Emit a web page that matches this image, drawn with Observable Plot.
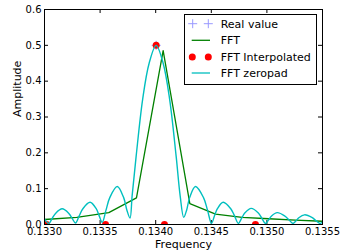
<!DOCTYPE html>
<html>
<head>
<meta charset="utf-8">
<script src="https://cdn.jsdelivr.net/npm/d3@7"></script>
<script src="https://cdn.jsdelivr.net/npm/@observablehq/plot@0.6"></script>
<style>
  body { margin: 0; background: white; }
  #wrap { position: relative; width: 358px; height: 252px; font-family: "DejaVu Sans", sans-serif; }
  #legend { position: absolute; left: 184px; top: 14px; }
</style>
</head>
<body>
<div id="wrap"></div>
<script>
// Axis ticks
const xTicks = [0.1330, 0.1335, 0.1340, 0.1345, 0.1350, 0.1355];
const yTicks = [0.0, 0.1, 0.2, 0.3, 0.4, 0.5, 0.6];

// Real value
const realFreq = [0.134004];
const realAmp = [0.5];

// FFT (green)
const fftFreq = [0.133000, 0.133290, 0.133578, 0.133827, 0.134067, 0.134307, 0.134538, 0.134777, 0.135016, 0.135255, 0.135500];
const fftAmp  = [0.014, 0.020, 0.033, 0.0745, 0.485, 0.058, 0.029, 0.020, 0.016, 0.012, 0.009];

// FFT Interpolated (red dots)
const interpFreq = [0.133018, 0.133549, 0.134079, 0.134897, 0.134004];
const interpAmp  = [0, 0, 0, 0, 0.5];

// FFT zeropad (cyan)
const zeropadFreq = [
  0.133000, 0.133039,
  0.133069, 0.133099, 0.133159, 0.133219, 0.133249, 0.133279,
  0.133312, 0.133345, 0.133410, 0.133465, 0.133492, 0.133519,
  0.133553, 0.133587, 0.133654, 0.133712, 0.133741, 0.133769,
  0.133788, 0.133824, 0.133883, 0.133941, 0.134004, 0.134067, 0.134125, 0.134184, 0.134220, 0.134252,
  0.134278, 0.134305, 0.134358, 0.134430, 0.134466, 0.134502,
  0.134528, 0.134555, 0.134607, 0.134675, 0.134709, 0.134743,
  0.134772, 0.134801, 0.134859, 0.134923, 0.134955, 0.134987,
  0.135014, 0.135040, 0.135093, 0.135164, 0.135200, 0.135235,
  0.135261, 0.135287, 0.135338, 0.135408, 0.135443, 0.135477,
  0.135500
];
const zeropadAmp = [
  0.016, 0.003,
  0.017, 0.031, 0.044, 0.031, 0.017, 0.004,
  0.024, 0.044, 0.062, 0.044, 0.024, 0.006,
  0.040, 0.075, 0.106, 0.075, 0.040, 0.018,
  0.080, 0.190, 0.350, 0.450, 0.500, 0.450, 0.350, 0.190, 0.080, 0.020,
  0.040, 0.075, 0.106, 0.075, 0.040, 0.003,
  0.024, 0.044, 0.062, 0.044, 0.024, 0.003,
  0.017, 0.032, 0.045, 0.032, 0.017, 0.003,
  0.0125, 0.023, 0.033, 0.023, 0.0125, 0.003,
  0.010, 0.019, 0.027, 0.019, 0.010, 0.003,
  0.007
];

const COLORS = { real: "#9999ff", fft: "#008000", interp: "#ff0000", zeropad: "#00bfbf" };

const toRows = (xs, ys) => xs.map((x, i) => ({ x, y: ys[i] }));
const realRows = toRows(realFreq, realAmp);
const fftRows = toRows(fftFreq, fftAmp);
const interpRows = toRows(interpFreq, interpAmp);
const zeropadRows = toRows(zeropadFreq, zeropadAmp);

// thin "+" marker like matplotlib
const plusSymbol = {
  draw(context, size) {
    const s = Math.sqrt(size / Math.PI);
    context.moveTo(-s, 0); context.lineTo(s, 0);
    context.moveTo(0, -s); context.lineTo(0, s);
  }
};

const chart = Plot.plot({
  width: 358,
  height: 252,
  marginLeft: 44,
  marginRight: 36,
  marginTop: 9,
  marginBottom: 28,
  style: { fontFamily: "DejaVu Sans, sans-serif", fontSize: "10px", background: "white", color: "black" },
  x: { domain: [0.1330, 0.1355] },
  y: { domain: [0, 0.6] },
  marks: [
    Plot.axisX({ ticks: xTicks, tickFormat: d3.format(".4f"), tickSize: 0, tickPadding: 3, fontSize: 10, label: null }),
    Plot.axisY({ ticks: yTicks, tickFormat: d3.format(".1f"), tickSize: 0, tickPadding: 3, fontSize: 10, label: null }),
    // inward ticks on all four sides
    Plot.tickX(xTicks, { x: d => d, insetTop: 211, stroke: "black" }),
    Plot.tickX(xTicks, { x: d => d, insetBottom: 211, stroke: "black" }),
    Plot.tickY(yTicks, { y: d => d, insetRight: 274, stroke: "black" }),
    Plot.tickY(yTicks, { y: d => d, insetLeft: 274, stroke: "black" }),
    Plot.dot(realRows, { x: "x", y: "y", symbol: plusSymbol, r: 4.5, stroke: COLORS.real, strokeWidth: 1, clip: true }),
    Plot.line(fftRows, { x: "x", y: "y", stroke: COLORS.fft, strokeWidth: 1.3, clip: true }),
    Plot.dot(interpRows, { x: "x", y: "y", r: 3.5, fill: COLORS.interp, stroke: "none", clip: true }),
    Plot.line(zeropadRows, { x: "x", y: "y", stroke: COLORS.zeropad, strokeWidth: 1.4, curve: "catmull-rom", clip: true }),
    Plot.frame({ stroke: "black" }),
    Plot.text(["Frequency"], { text: d => d, frameAnchor: "bottom", dy: 23, fontSize: 11 }),
    Plot.text(["Amplitude"], { text: d => d, frameAnchor: "left", rotate: -90, dx: -27, fontSize: 11 })
  ]
});

const wrap = document.getElementById("wrap");
wrap.appendChild(chart);

// Legend (matplotlib-style box inside the axes)
const legendItems = [
  { label: "Real value", kind: "plus", color: COLORS.real },
  { label: "FFT", kind: "line", color: COLORS.fft },
  { label: "FFT Interpolated", kind: "dots", color: COLORS.interp },
  { label: "FFT zeropad", kind: "line", color: COLORS.zeropad }
];
const ns = "http://www.w3.org/2000/svg";
const leg = document.createElementNS(ns, "svg");
leg.setAttribute("id", "legend");
leg.setAttribute("width", 134);
leg.setAttribute("height", 72);
const box = document.createElementNS(ns, "rect");
box.setAttribute("x", 0.5); box.setAttribute("y", 0.5);
box.setAttribute("width", 132); box.setAttribute("height", 70);
box.setAttribute("fill", "white"); box.setAttribute("stroke", "black");
leg.appendChild(box);
const rowY = [9.7, 26.3, 43, 59];
legendItems.forEach((it, i) => {
  const y = rowY[i];
  if (it.kind === "line") {
    const l = document.createElementNS(ns, "line");
    l.setAttribute("x1", 7.7); l.setAttribute("x2", 26);
    l.setAttribute("y1", y); l.setAttribute("y2", y);
    l.setAttribute("stroke", it.color); l.setAttribute("stroke-width", 1.3);
    leg.appendChild(l);
  } else if (it.kind === "plus") {
    [8.7, 24.3].forEach(cx => {
      const p = document.createElementNS(ns, "path");
      p.setAttribute("d", `M${cx - 4.5},${y}H${cx + 4.5}M${cx},${y - 4.5}V${y + 4.5}`);
      p.setAttribute("stroke", it.color); p.setAttribute("fill", "none");
      leg.appendChild(p);
    });
  } else {
    [8.3, 24.3].forEach(cx => {
      const c = document.createElementNS(ns, "circle");
      c.setAttribute("cx", cx); c.setAttribute("cy", y); c.setAttribute("r", 3.5);
      c.setAttribute("fill", it.color);
      leg.appendChild(c);
    });
  }
  const t = document.createElementNS(ns, "text");
  t.setAttribute("x", 36.7); t.setAttribute("y", y);
  t.setAttribute("dy", "0.35em");
  t.setAttribute("font-size", 11);
  t.setAttribute("font-family", "DejaVu Sans, sans-serif");
  t.textContent = it.label;
  leg.appendChild(t);
});
wrap.appendChild(leg);
</script>
</body>
</html>
